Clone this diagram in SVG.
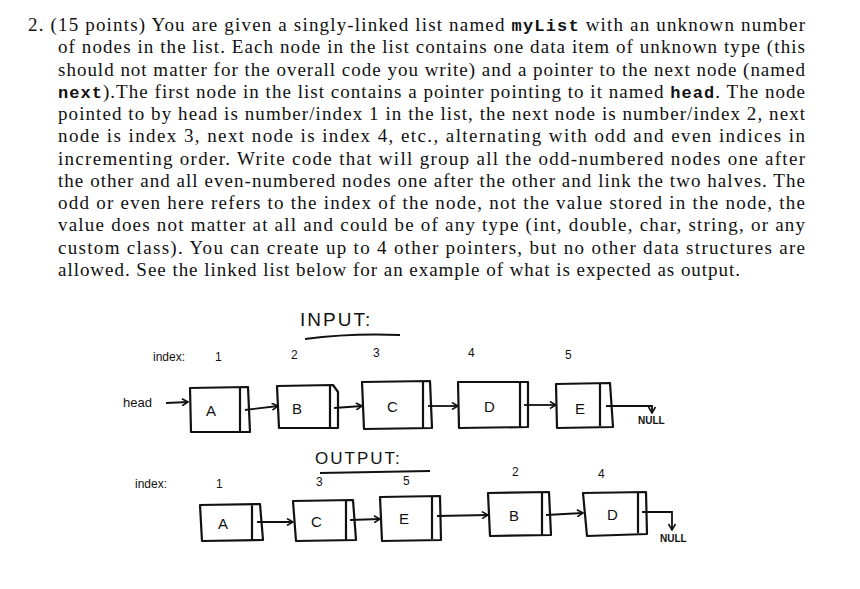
<svg xmlns="http://www.w3.org/2000/svg" width="860" height="589" viewBox="0 0 860 589">
<style>
.p{font-family:"Liberation Serif",serif;font-size:19px;fill:#111}
.m{font-family:"Liberation Mono",monospace;font-weight:bold;font-size:17px}
.h{font-family:"Liberation Sans",sans-serif;fill:#111}
.b{fill:none;stroke:#111;stroke-width:2.2;stroke-linejoin:round}
.c{fill:none;stroke:#111;stroke-width:1.8}
</style>
<defs><marker id="a" markerWidth="8" markerHeight="8" refX="7" refY="4" orient="auto" markerUnits="userSpaceOnUse"><path d="M1,0.5 L7,4 L1,7.5" fill="none" stroke="#111" stroke-width="1.6"/></marker></defs>
<rect width="860" height="589" fill="#fff"/>
<g id="text">
<text class="p" x="28" y="31" textLength="777" lengthAdjust="spacing">2. (15 points) You are given a singly-linked list named <tspan class="m">myList</tspan> with an unknown number</text>
<text class="p" x="58" y="53" textLength="747" lengthAdjust="spacing">of nodes in the list. Each node in the list contains one data item of unknown type (this</text>
<text class="p" x="58" y="76" textLength="747" lengthAdjust="spacing">should not matter for the overall code you write) and a pointer to the next node (named</text>
<text class="p" x="58" y="98" textLength="747" lengthAdjust="spacing"><tspan class="m">next</tspan>).The first node in the list contains a pointer pointing to it named <tspan class="m">head</tspan>. The node</text>
<text class="p" x="58" y="120" textLength="747" lengthAdjust="spacing">pointed to by head is number/index 1 in the list, the next node is number/index 2, next</text>
<text class="p" x="58" y="142" textLength="747" lengthAdjust="spacing">node is index 3, next node is index 4, etc., alternating with odd and even indices in</text>
<text class="p" x="58" y="165" textLength="747" lengthAdjust="spacing">incrementing order. Write code that will group all the odd-numbered nodes one after</text>
<text class="p" x="58" y="187" textLength="747" lengthAdjust="spacing">the other and all even-numbered nodes one after the other and link the two halves. The</text>
<text class="p" x="58" y="209" textLength="747" lengthAdjust="spacing">odd or even here refers to the index of the node, not the value stored in the node, the</text>
<text class="p" x="58" y="231" textLength="747" lengthAdjust="spacing">value does not matter at all and could be of any type (int, double, char, string, or any</text>
<text class="p" x="58" y="254" textLength="747" lengthAdjust="spacing">custom class). You can create up to 4 other pointers, but no other data structures are</text>
<text class="p" x="58" y="276" textLength="682" lengthAdjust="spacing">allowed. See the linked list below for an example of what is expected as output.</text>
</g>
<g id="input-title"><text class="h" x="300" y="326" font-size="19" letter-spacing="2">INPUT:</text><path class="c" d="M305,339 Q350,333 400,335"/></g>
<g id="input-labels" class="h" font-size="12">
<text x="153" y="361">index:</text><text x="215" y="361">1</text><text x="291" y="359">2</text><text x="373" y="357">3</text><text x="468" y="357">4</text><text x="565" y="359">5</text>
<text x="123" y="407" font-size="13">head</text>
</g>
<g id="in-A"><path class="b" d="M190,388 L248,387 L250,432 L191,432 Z M240,388 L240,432"/><text class="h" x="206" y="416" font-size="15">A</text></g>
<g id="in-B"><path class="b" d="M277,386 L333,385 L338,392 L338,428 L279,428 Z M330,386 L330,428"/><text class="h" x="292" y="414" font-size="15">B</text></g>
<g id="in-C"><path class="b" d="M362,382 L430,381 L432,428 L364,429 Z M423,382 L423,428"/><text class="h" x="387" y="412" font-size="15">C</text></g>
<g id="in-D"><path class="b" d="M458,382 L528,382 L528,427 L459,428 Z M520,382 L520,427"/><text class="h" x="484" y="412" font-size="15">D</text></g>
<g id="in-E"><path class="b" d="M556,384 L610,383 L613,427 L557,428 Z M600,384 L600,426"/><text class="h" x="575" y="414" font-size="15">E</text></g>
<g id="in-null"><text class="h" x="638" y="424" font-size="10" font-weight="bold">NULL</text></g>
<g id="output-title"><text class="h" x="315" y="464" font-size="17" letter-spacing="2">OUTPUT:</text><path class="c" d="M320,473 L430,471"/></g>
<g id="output-labels" class="h" font-size="12">
<text x="135" y="488">index:</text><text x="216" y="488">1</text><text x="316" y="486">3</text><text x="403" y="485">5</text><text x="512" y="476">2</text><text x="598" y="478">4</text>
</g>
<g id="out-A"><path class="b" d="M200,505 L260,504 L263,540 L202,541 Z M252,505 L252,540"/><text class="h" x="218" y="529" font-size="15">A</text></g>
<g id="out-C"><path class="b" d="M293,501 L353,500 L356,540 L296,541 Z M346,500 L346,540"/><text class="h" x="311" y="527" font-size="15">C</text></g>
<g id="out-E"><path class="b" d="M380,497 L440,496 L441,540 L382,541 Z M432,496 L432,539"/><text class="h" x="399" y="524" font-size="15">E</text></g>
<g id="out-B"><path class="b" d="M488,493 L549,492 L551,535 L490,536 Z M542,492 L542,535"/><text class="h" x="509" y="521" font-size="15">B</text></g>
<g id="out-D"><path class="b" d="M583,493 L646,492 L647,534 L587,536 Z M638,492 L638,533"/><text class="h" x="607" y="520" font-size="15">D</text></g>
<g id="out-null"><text class="h" x="660" y="542" font-size="10" font-weight="bold">NULL</text></g>
<g id="connectors" class="c">
<path d="M166,403 L188,402" marker-end="url(#a)"/>
<path d="M245,410 L278,406" marker-end="url(#a)"/>
<path d="M334,408 L362,406" marker-end="url(#a)"/>
<path d="M428,406 L458,406" marker-end="url(#a)"/>
<path d="M524,405 L556,405" marker-end="url(#a)"/>
<path d="M606,406 L652,406 L652,413" marker-end="url(#a)"/>
<path d="M257,522 L293,522" marker-end="url(#a)"/>
<path d="M350,520 L380,519" marker-end="url(#a)"/>
<path d="M437,516 L488,515" marker-end="url(#a)"/>
<path d="M546,515 L583,513" marker-end="url(#a)"/>
<path d="M642,512 L672,512 L672,530" marker-end="url(#a)"/>
</g>
</svg>
